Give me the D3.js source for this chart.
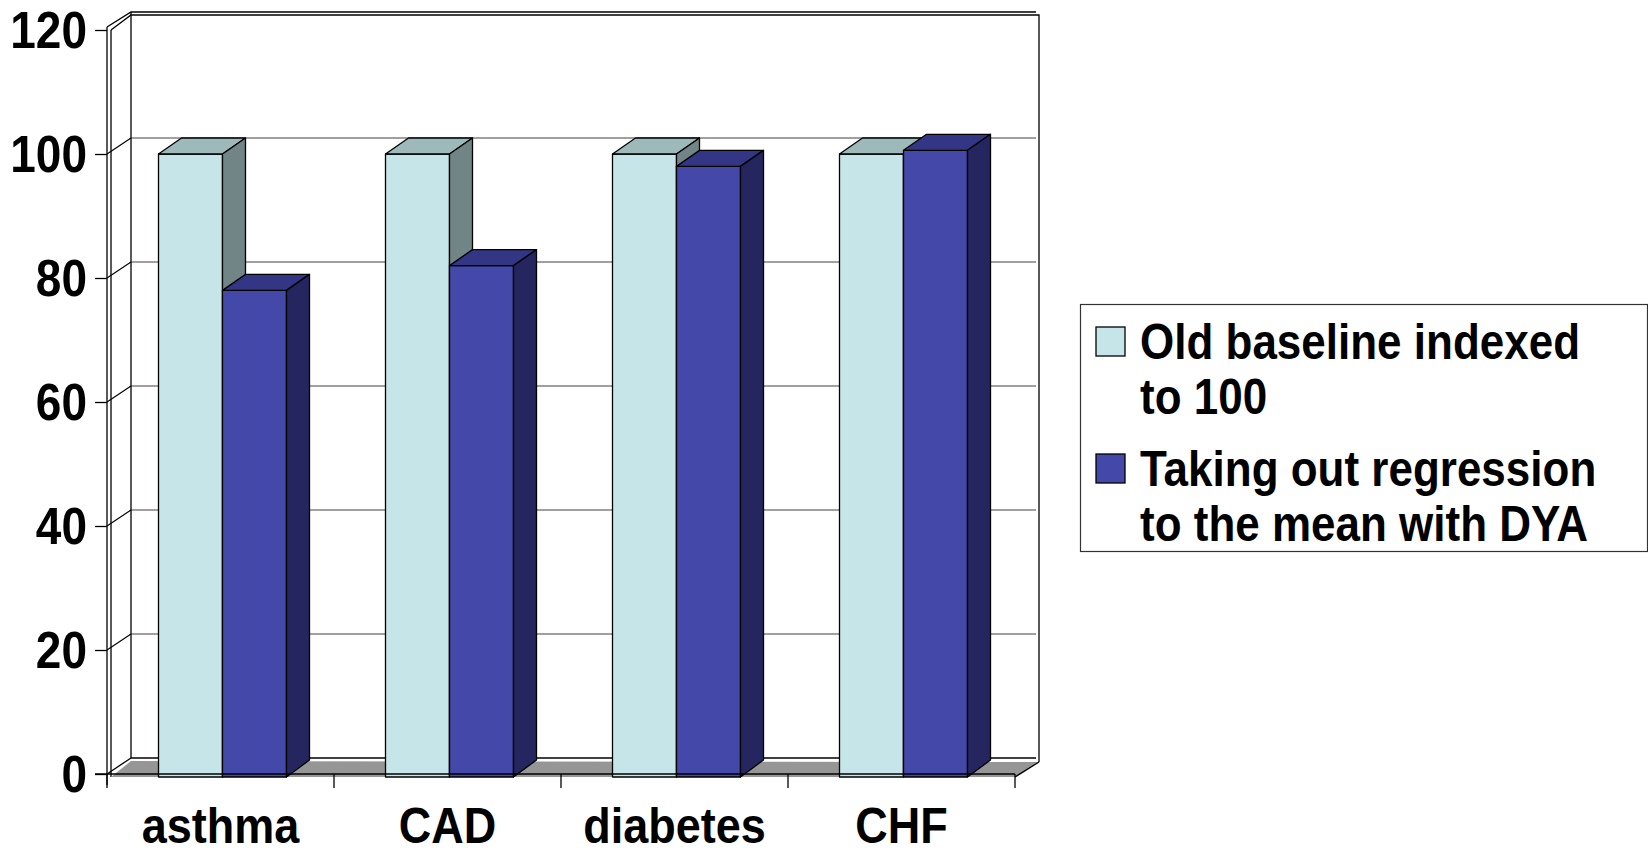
<!DOCTYPE html>
<html>
<head>
<meta charset="utf-8">
<script src="https://cdn.jsdelivr.net/npm/d3@7"></script>
<style>
  html, body { margin: 0; padding: 0; background: #fff; }
  svg { display: block; }
  text { font-family: "Liberation Sans", Arial, sans-serif; font-weight: bold; fill: #000; }
</style>
</head>
<body>
<svg id="chart" width="1648" height="848"></svg>
<script>
// Chart data
const categories = ["asthma", "CAD", "diabetes", "CHF"];
const seriesNames = ["Old baseline indexed to 100", "Taking out regression to the mean with DYA"];
const oldBaseline = [100, 100, 100, 100];
const withoutRegression = [78, 82, 98, 100.6];
const yTicks = [0, 20, 40, 60, 80, 100, 120];
const legendLines = [["Old baseline indexed", "to 100"], ["Taking out regression", "to the mean with DYA"]];

// Face colours for each series: front, top, side
const palette = [
  { front: "#C6E5E8", top: "#9EB9BA", side: "#718586" },
  { front: "#4448A8", top: "#333585", side: "#25265F" }
];

// Text is drawn slightly taller than its natural proportions
const textStretch = 1.12;

const svg = d3.select("#chart");

// Plot frame (front plane) and 3D depth offsets
const X0 = 107, X1 = 1015;
const wallD = { x: 24, y: -16 };
const barD = { x: 23, y: -16 };
const floorT = 3;

const y = d3.scaleLinear().domain([0, 120]).range([774, 30]);
const x = d3.scaleBand().domain(categories).range([X0, X1]);
const barW = 64;
const groupOffset = (x.bandwidth() - 2 * barW) / 2 + 2;

const g = svg.append("g");

// Back wall
const backTop = y(120) + wallD.y, backBottom = y(0) + wallD.y;
g.append("rect")
  .attr("x", X0 + wallD.x).attr("y", backTop)
  .attr("width", X1 - X0).attr("height", backBottom - backTop)
  .attr("fill", "#fff");

// Back-wall gridlines
g.selectAll("line.grid").data(yTicks.filter(v => v > 0 && v < 120)).enter()
  .append("line").attr("class", "grid")
  .attr("x1", X0 + wallD.x).attr("x2", X1 + wallD.x - 3)
  .attr("y1", v => y(v) + wallD.y).attr("y2", v => y(v) + wallD.y)
  .attr("stroke", "#808080").attr("stroke-width", 1.5);

// Gridline segments on the side wall
g.selectAll("line.sidegrid").data(yTicks.filter(v => v > 0 && v < 120)).enter()
  .append("line").attr("class", "sidegrid")
  .attr("x1", X0).attr("x2", X0 + wallD.x)
  .attr("y1", v => y(v)).attr("y2", v => y(v) + wallD.y)
  .attr("stroke", "#000").attr("stroke-width", 1.2);

// Wall outlines (walls drawn with a thin slab thickness)
const wallLines = [
  [[X0, y(120) - 3], [X0 + wallD.x, y(120) - 3 + wallD.y + 1], [X1 + wallD.x - 3, y(120) - 3 + wallD.y + 1]],
  [[X0 + 4, y(120)], [X0 + wallD.x, y(120) + wallD.y + 1], [X1 + wallD.x, y(120) + wallD.y + 1], [X1 + wallD.x, y(0) + wallD.y + 4]],
  [[X0 + wallD.x, y(120) - 3 + wallD.y + 1], [X0 + wallD.x, y(0) + wallD.y]],
  [[X0, y(120) - 3], [X0, y(0) + 11]],
  [[X0 + 4, y(120)], [X0 + 4, y(0) + floorT]],
  [[X0 + wallD.x, y(0) + wallD.y], [X1 + wallD.x - 3, y(0) + wallD.y]]
];
g.selectAll("path.wall").data(wallLines).enter()
  .append("path").attr("class", "wall")
  .attr("d", d3.line())
  .attr("fill", "none").attr("stroke", "#000").attr("stroke-width", 1.3);

// Floor
const floorPts = [
  [X0 + 4, y(0) + floorT], [X1, y(0) + floorT],
  [X1 + wallD.x, y(0) + wallD.y + 4], [X0 + wallD.x, y(0) + wallD.y + 3]
];
g.append("path").attr("d", d3.line()(floorPts) + "Z")
  .attr("fill", "#969696").attr("stroke", "none");
g.append("path")
  .attr("d", d3.line()([[X0, y(0)], [X0 + wallD.x, y(0) + wallD.y]]))
  .attr("stroke", "#000").attr("stroke-width", 1.3);
g.append("path")
  .attr("d", d3.line()([[X1, y(0) + floorT], [X1 + wallD.x, y(0) + wallD.y + 4]]))
  .attr("stroke", "#000").attr("stroke-width", 1.3);

// Bars
const bars = [];
categories.forEach((c, i) => {
  [oldBaseline[i], withoutRegression[i]].forEach((v, s) => {
    bars.push({ cat: c, series: s, value: v, x0: x(c) + groupOffset + s * barW });
  });
});

const base = y(0) + floorT;
const barG = g.selectAll("g.bar").data(bars).enter().append("g").attr("class", "bar");

barG.append("path") // front face
  .attr("d", d => d3.line()([[d.x0, y(d.value)], [d.x0 + barW, y(d.value)], [d.x0 + barW, base], [d.x0, base]]) + "Z")
  .attr("fill", d => palette[d.series].front);
barG.append("path") // top face
  .attr("d", d => d3.line()([
    [d.x0, y(d.value)], [d.x0 + barW, y(d.value)],
    [d.x0 + barW + barD.x, y(d.value) + barD.y], [d.x0 + barD.x, y(d.value) + barD.y]]) + "Z")
  .attr("fill", d => palette[d.series].top);
barG.append("path") // side face
  .attr("d", d => d3.line()([
    [d.x0 + barW, y(d.value)], [d.x0 + barW + barD.x, y(d.value) + barD.y],
    [d.x0 + barW + barD.x, base + barD.y - 1], [d.x0 + barW, base]]) + "Z")
  .attr("fill", d => palette[d.series].side);
barG.selectAll("path")
  .attr("stroke", "#000").attr("stroke-width", 1.3).attr("stroke-linejoin", "round");

// Front floor edge drawn on top of bars
g.append("line")
  .attr("x1", X0 - 12).attr("x2", X1)
  .attr("y1", y(0)).attr("y2", y(0))
  .attr("stroke", "#000").attr("stroke-width", 1.3);

// Y axis
const yAxis = d3.axisLeft(y).tickValues(yTicks).tickSize(12).tickPadding(0).tickFormat(d3.format("d"));
const yAx = svg.append("g").attr("transform", `translate(${X0},0)`).call(yAxis);
yAx.select(".domain").remove();
yAx.selectAll(".tick line").attr("stroke", "#000").attr("stroke-width", 1.3);
yAx.selectAll(".tick text")
  .attr("x", 0).attr("dy", null)
  .attr("transform", `translate(-20, 17) scale(1, ${textStretch})`)
  .attr("font-size", 46).attr("font-family", "Liberation Sans, Arial, sans-serif")
  .attr("font-weight", "bold").attr("fill", "#000");

// X axis: tick marks at category boundaries, labels centred in bands
const xEdges = categories.map(c => x(c)).concat([X1]);
svg.selectAll("line.xtick").data(xEdges).enter()
  .append("line").attr("class", "xtick")
  .attr("x1", d => d).attr("x2", d => d)
  .attr("y1", y(0)).attr("y2", y(0) + 14)
  .attr("stroke", "#000").attr("stroke-width", 1.3);
svg.selectAll("text.xlabel").data(categories).enter()
  .append("text").attr("class", "xlabel")
  .attr("transform", d => `translate(${x(d) + x.bandwidth() / 2}, 843) scale(1, ${textStretch})`)
  .attr("text-anchor", "middle")
  .attr("font-size", 45)
  .text(d => d);

// Legend
const legend = svg.append("g");
legend.append("rect")
  .attr("x", 1080.5).attr("y", 304.5).attr("width", 567).attr("height", 247)
  .attr("fill", "#fff").attr("stroke", "#333").attr("stroke-width", 1.2);
const items = legend.selectAll("g.item").data(seriesNames).enter()
  .append("g").attr("class", "item")
  .attr("transform", (d, i) => `translate(1096, ${[327, 454][i]})`);
items.append("rect")
  .attr("width", 29).attr("height", 29)
  .attr("fill", (d, i) => palette[i].front)
  .attr("stroke", "#000").attr("stroke-width", 1.3);
items.each(function (d, i) {
  d3.select(this).selectAll("text").data(legendLines[i]).enter()
    .append("text")
    .attr("transform", (t, j) => `translate(44, ${32 + j * 55}) scale(1, ${textStretch})`)
    .attr("font-size", 44)
    .text(t => t);
});
</script>
</body>
</html>
